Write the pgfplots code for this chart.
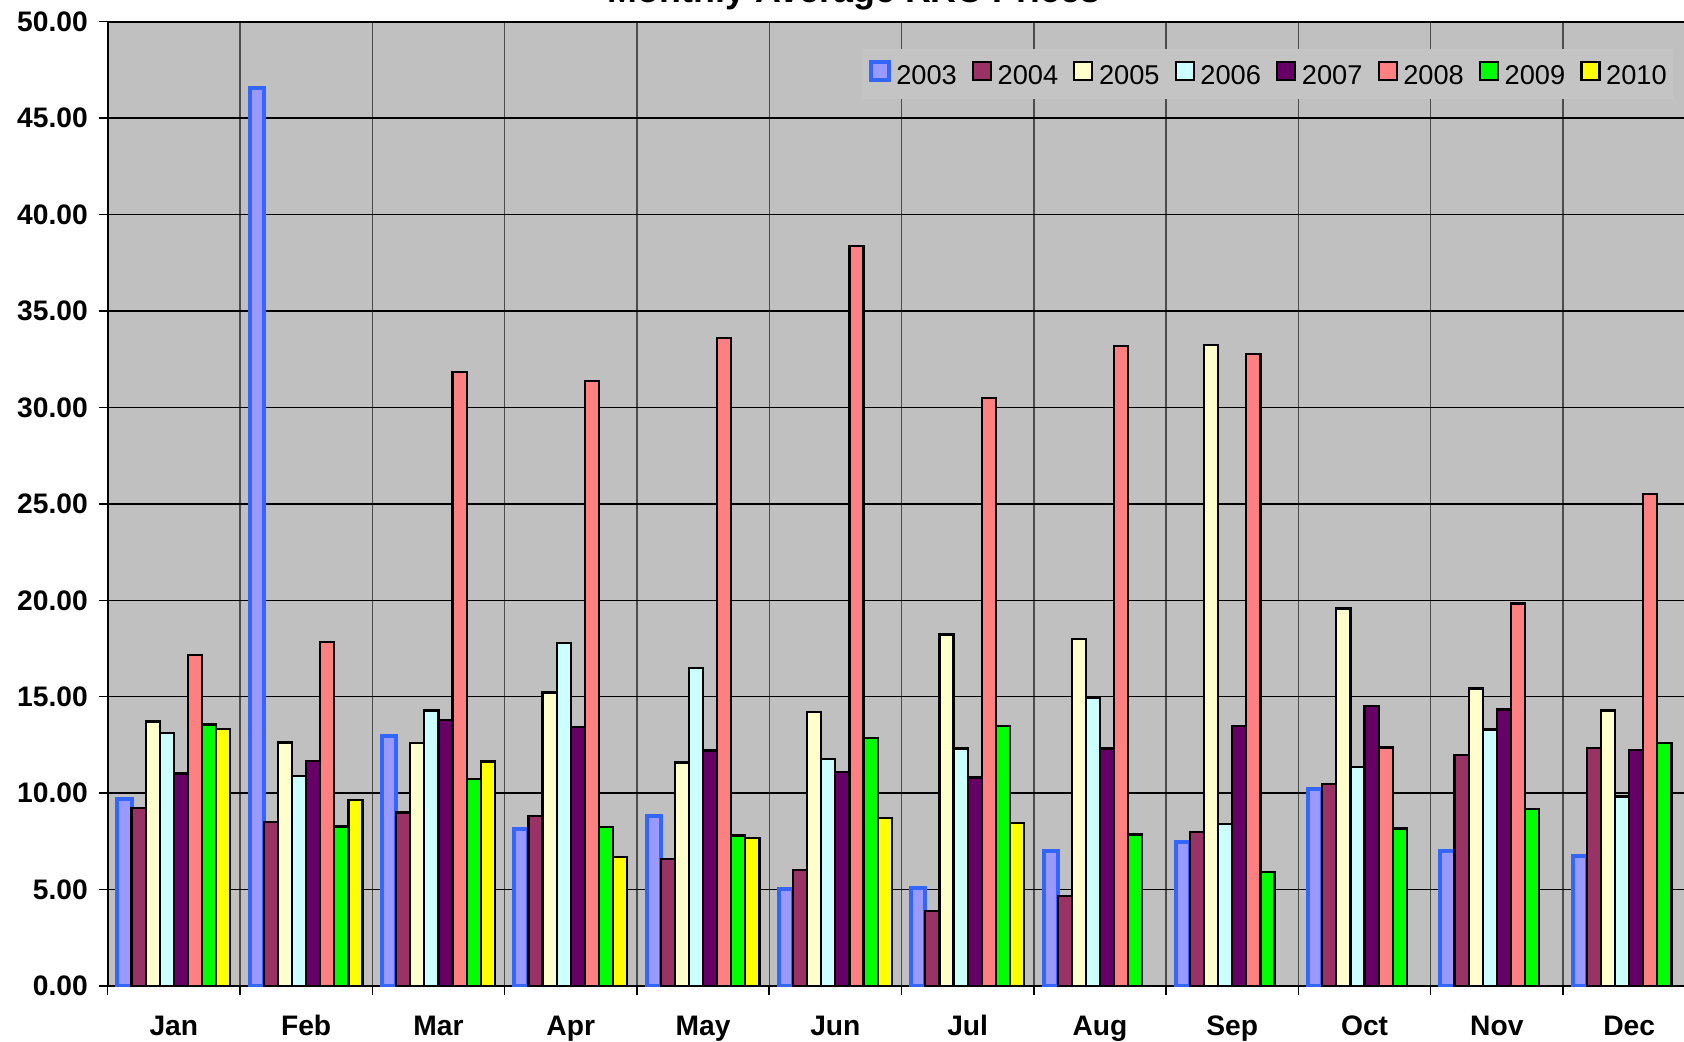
\documentclass[border=0pt]{standalone}
\usepackage{fontspec}
\setmainfont{Liberation Sans}
\usepackage{pgfplots}
\pgfplotsset{compat=1.18}
\definecolor{c2003f}{HTML}{9999FF}
\definecolor{c2003d}{HTML}{3366FF}
\definecolor{c2004}{HTML}{993366}
\definecolor{c2005}{HTML}{FFFFCC}
\definecolor{c2006}{HTML}{CCFFFF}
\definecolor{c2007}{HTML}{660066}
\definecolor{c2008}{HTML}{FF8080}
\definecolor{c2009}{HTML}{00FF00}
\definecolor{c2010}{HTML}{FFFF00}
\definecolor{plotbg}{HTML}{C0C0C0}
\definecolor{legbg}{HTML}{C4C4C4}
\pgfplotsset{
  mybar/.style={ybar, bar width=0.1066, bar shift=#1, line width=1.1pt, draw=black,
    legend image code/.code={\draw[##1] (0.5pt,-1.55pt) rectangle (9.5pt,7.45pt); \path (12.3pt,0pt);}},
}
\begin{document}
\begin{tikzpicture}
\begin{axis}[
  width=793.8pt, height=482.15pt, scale only axis,
  xmin=-0.5, xmax=11.5, ymin=0, ymax=50,
  axis background/.style={fill=plotbg},
  axis line style={line width=1pt, black},
  xtick={-0.5,0.5,...,11.5},
  x tick label as interval,
  xticklabels={Jan,Feb,Mar,Apr,May,Jun,Jul,Aug,Sep,Oct,Nov,Dec},
  ytick={0,5,...,50},
  yticklabels={0.00,5.00,10.00,15.00,20.00,25.00,30.00,35.00,40.00,45.00,50.00},
  tick align=outside, major tick length=4.4pt,
  xtick pos=bottom, ytick pos=left,
  tick style={black, line width=0.75pt},
  grid=major,
  x grid style={black!70, line width=0.7pt},
  y grid style={black, line width=0.7pt},
  ticklabel style={font=\fontsize{14.1pt}{16pt}\selectfont\bfseries, inner sep=0pt},
  yticklabel style={anchor=east, xshift=-5.35pt},
  xticklabel style={anchor=base, yshift=-20.1pt},
  title={Monthly Average RRC Prices},
  title style={at={(0.4701,1)}, anchor=base, yshift=3.8pt, inner sep=0pt, font=\fontsize{17.9pt}{20pt}\selectfont\bfseries},
  legend columns=8,
  legend style={at={(0.4749,0.9724)}, anchor=north west, draw=none, fill=legbg,
    inner xsep=3.3pt, inner ysep=5.6pt, font=\fontsize{13.6pt}{16pt}\selectfont,
    /tikz/every even column/.append style={column sep=7.55pt},
    nodes={inner sep=0pt}},
  legend cell align=left,
]
\addplot[mybar=-0.3731, fill=c2003f, draw=c2003d, line width=2pt] coordinates {
(0,9.71) (1,46.58) (2,12.94) (3,8.14) (4,8.81) (5,5.02) (6,5.07) (7,7.02) (8,7.47) (9,10.21) (10,7.02) (11,6.73)};
\addplot[mybar=-0.2665, fill=c2004] coordinates {
(0,9.24) (1,8.51) (2,9.00) (3,8.81) (4,6.58) (5,6.02) (6,3.90) (7,4.68) (8,7.97) (9,10.48) (10,11.96) (11,12.34)};
\addplot[mybar=-0.1599, fill=c2005] coordinates {
(0,13.72) (1,12.63) (2,12.60) (3,15.22) (4,11.59) (5,14.21) (6,18.23) (7,18.00) (8,33.22) (9,19.57) (10,15.43) (11,14.29)};
\addplot[mybar=-0.0533, fill=c2006] coordinates {
(0,13.11) (1,10.90) (2,14.29) (3,17.78) (4,16.50) (5,11.76) (6,12.32) (7,14.94) (8,8.42) (9,11.37) (10,13.30) (11,9.83)};
\addplot[mybar=0.0533, fill=c2007] coordinates {
(0,11.02) (1,11.68) (2,13.80) (3,13.43) (4,12.21) (5,11.09) (6,10.81) (7,12.32) (8,13.49) (9,14.52) (10,14.34) (11,12.25)};
\addplot[mybar=0.1599, fill=c2008] coordinates {
(0,17.15) (1,17.82) (2,31.83) (3,31.38) (4,33.61) (5,38.35) (6,30.49) (7,33.17) (8,32.78) (9,12.37) (10,19.83) (11,25.53)};
\addplot[mybar=0.2665, fill=c2009] coordinates {
(0,13.56) (1,8.27) (2,10.74) (3,8.25) (4,7.80) (5,12.88) (6,13.49) (7,7.86) (8,5.91) (9,8.17) (10,9.19) (11,12.58)};
\addplot[mybar=0.3731, fill=c2010] coordinates {
(0,13.34) (1,9.65) (2,11.64) (3,6.69) (4,7.69) (5,8.70) (6,8.47)};
\legend{2003,2004,2005,2006,2007,2008,2009,2010}
\end{axis}
\pgfresetboundingbox
\useasboundingbox (-53.85pt,-27.5pt) rectangle (788.15pt,493pt);
\end{tikzpicture}
\end{document}
